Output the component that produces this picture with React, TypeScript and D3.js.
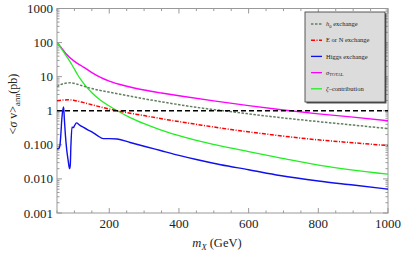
import React from "react";
import * as d3 from "d3";

const xTicks = [200, 400, 600, 800, 1000];
const yTicks = [0.001, 0.01, 0.1, 1, 10, 100, 1000];
const yTickLabels = ["0.001", "0.010", "0.100", "1", "10", "100", "1000"];

const massH0 = [50, 70, 89, 120, 150, 195, 250, 300, 360, 450, 527, 600, 690, 800, 900, 1000];
const valH0 = [5.13, 6.31, 6.61, 5.5, 4.47, 3.6, 2.82, 2.24, 1.76, 1.26, 1.0, 0.81, 0.63, 0.48, 0.38, 0.3];

const massEN = [50, 65, 83, 100, 120, 150, 185, 223, 300, 360, 450, 550, 662, 800, 900, 1000];
const valEN = [1.97, 2.05, 2.1, 2.0, 1.8, 1.5, 1.22, 1.0, 0.72, 0.56, 0.4, 0.28, 0.2, 0.14, 0.115, 0.095];

const massHiggs = [50, 55, 58, 61, 64, 67, 69, 71, 74, 78, 82, 86, 88, 90, 93, 97, 100, 106, 115, 125, 137, 150, 165, 183, 200, 223, 260, 300, 347, 400, 450, 520, 600, 690, 800, 900, 1000];
const valHiggs = [0.076, 0.078, 0.09, 0.2, 0.6, 1.1, 1.3, 0.6, 0.2, 0.07, 0.035, 0.02, 0.025, 0.1, 0.33, 0.32, 0.36, 0.44, 0.38, 0.33, 0.28, 0.24, 0.19, 0.152, 0.152, 0.148, 0.117, 0.091, 0.068, 0.049, 0.037, 0.026, 0.0186, 0.0126, 0.0087, 0.0066, 0.005];

const massTot = [50, 60, 75, 100, 126, 150, 175, 200, 250, 300, 350, 400, 500, 600, 700, 800, 900, 1000];
const valTot = [100, 75.9, 47.9, 28.2, 19.1, 13.2, 9.55, 7.41, 5.25, 4.07, 3.31, 2.75, 1.95, 1.41, 1.05, 0.81, 0.65, 0.51];

const massZeta = [50, 60, 70, 80, 90, 100, 110, 120, 132, 150, 175, 200, 223, 260, 300, 347, 400, 450, 519, 600, 690, 805, 900, 1000];
const valZeta = [100, 72.4, 51.3, 36.3, 25.1, 16.6, 11.0, 7.76, 5.37, 3.39, 2.04, 1.38, 1.0, 0.63, 0.417, 0.275, 0.186, 0.135, 0.093, 0.063, 0.0417, 0.0251, 0.0182, 0.0138];

const W = 404, H = 253;
const L = 57, R = 388, T = 8.5, B = 213;

export default function App() {
  const x = d3.scaleLinear().domain([50, 1000]).range([L, R]);
  const y = d3.scaleLog().domain([0.001, 1000]).range([B, T]);
  const line = (ms: number[], vs: number[]) =>
    d3.line<number>().x((_, i) => x(ms[i])).y((v) => y(v)).curve(d3.curveMonotoneX)(vs) || "";

  const xMinor: number[] = [];
  for (let m = 50; m <= 1000; m += 50) if (m % 200 !== 0) xMinor.push(m);
  const yMinor: number[] = [];
  for (let e = -3; e < 3; e++) for (let k = 2; k <= 9; k++) yMinor.push(k * Math.pow(10, e));

  const frameColor = "#999";
  const font = "'Liberation Serif', 'DejaVu Serif', serif";
  const legendItems = [
    { label: <><tspan fontStyle="italic">h</tspan><tspan fontSize={4.5} dy={1.5}>0</tspan><tspan dy={-1.5}> exchange</tspan></>, color: "#5f7f5f", dash: "2.5,1.5", w: 1.4 },
    { label: <>E or N exchange</>, color: "#ff0000", dash: "4,1.5,1,1.5", w: 1.4 },
    { label: <>Higgs exchange</>, color: "#1010ee", dash: "", w: 1.3 },
    { label: <><tspan fontStyle="italic">σ</tspan><tspan fontSize={4.5} dy={1.5}>TOTAL</tspan></>, color: "#ff00ff", dash: "", w: 1.3 },
    { label: <><tspan fontStyle="italic">ζ</tspan>–contribution</>, color: "#22ee22", dash: "", w: 1.3 },
  ];

  return (
    <svg width={W} height={H} style={{ position: "absolute", left: 0, top: 0 }} fontFamily={font}>
      <rect width={W} height={H} fill="#fff" />
      <defs>
        <clipPath id="plot">
          <rect x={L} y={T} width={R - L} height={B - T} />
        </clipPath>
      </defs>
      <rect x={L} y={T} width={R - L} height={B - T} fill="none" stroke={frameColor} strokeWidth={1} />
      {xTicks.map((t) => (
        <g key={"xt" + t}>
          <line x1={x(t)} x2={x(t)} y1={B} y2={B - 5} stroke={frameColor} />
          <line x1={x(t)} x2={x(t)} y1={T} y2={T + 5} stroke={frameColor} />
          <text x={x(t)} y={228} fontSize={13} textAnchor="middle" fill="#222">{t}</text>
        </g>
      ))}
      {xMinor.map((t) => (
        <g key={"xm" + t}>
          <line x1={x(t)} x2={x(t)} y1={B} y2={B - 2.5} stroke={frameColor} />
          <line x1={x(t)} x2={x(t)} y1={T} y2={T + 2.5} stroke={frameColor} />
        </g>
      ))}
      {yTicks.map((t, i) => (
        <g key={"yt" + t}>
          <line x1={L} x2={L + 5} y1={y(t)} y2={y(t)} stroke={frameColor} />
          <line x1={R} x2={R - 5} y1={y(t)} y2={y(t)} stroke={frameColor} />
          <text x={53} y={y(t) + 4.5} fontSize={13} textAnchor="end" fill="#222">{yTickLabels[i]}</text>
        </g>
      ))}
      {yMinor.map((t) => (
        <g key={"ym" + t}>
          <line x1={L} x2={L + 2.5} y1={y(t)} y2={y(t)} stroke={frameColor} />
          <line x1={R} x2={R - 2.5} y1={y(t)} y2={y(t)} stroke={frameColor} />
        </g>
      ))}
      <g clipPath="url(#plot)" fill="none">
        <path d={line(massTot, valTot)} stroke="#ff00ff" strokeWidth={1.4} />
        <path d={line(massZeta, valZeta)} stroke="#22ee22" strokeWidth={1.3} />
        <path d={line(massH0, valH0)} stroke="#5f7f5f" strokeWidth={1.5} strokeDasharray="2.5,1.5" />
        <path d={line(massEN, valEN)} stroke="#ff0000" strokeWidth={1.5} strokeDasharray="4,1.5,1,1.5" />
        <path d={line(massHiggs, valHiggs)} stroke="#1010ee" strokeWidth={1.4} />
        <line x1={L} x2={R} y1={y(1)} y2={y(1)} stroke="#000" strokeWidth={1.3} strokeDasharray="5,3" />
      </g>
      <rect x={306.5} y={13.5} width={80} height={90} fill="#555" />
      <rect x={305} y={12} width={80} height={90} fill="#dcdcdc" stroke="#333" strokeWidth={0.8} />
      {legendItems.map((it, i) => {
        const yy = 24 + i * 16.2;
        return (
          <g key={"lg" + i}>
            <line x1={311} x2={322} y1={yy} y2={yy} stroke={it.color} strokeWidth={it.w} strokeDasharray={it.dash || undefined} />
            <text x={326} y={yy + 2.2} fontSize={6.5} fill="#222">{it.label}</text>
          </g>
        );
      })}
      <text transform="translate(17,104) rotate(-90)" fontSize={12} textAnchor="middle" fill="#222">
        &lt;<tspan fontStyle="italic">σ</tspan> v&gt;<tspan fontSize={8.5} dy={3}>ann</tspan><tspan dy={-3}>(pb)</tspan>
      </text>
      <text x={217} y={247} fontSize={12.5} textAnchor="middle" fill="#222">
        <tspan fontStyle="italic">m</tspan><tspan fontStyle="italic" fontSize={8.5} dy={3}>X</tspan><tspan dy={-3}> (GeV)</tspan>
      </text>
    </svg>
  );
}
